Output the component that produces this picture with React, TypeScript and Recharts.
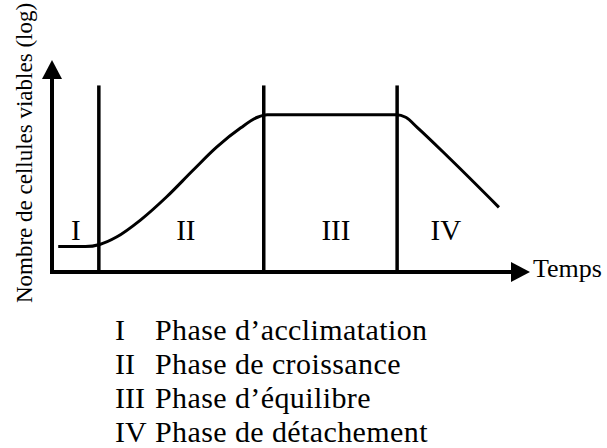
import { ComposedChart, Line, XAxis, YAxis, ReferenceLine, ReferenceDot } from "recharts";

// temps (unités arbitraires) et nombre de cellules viables (log)
const times = [1.3, 7, 10, 13.5, 18.5, 24, 29.5, 34.5, 39.5, 43, 45, 58, 72, 74, 76.5, 83, 93.5];
const logCells = [1.2, 1.2, 1.3, 1.65, 2.45, 3.55, 4.8, 5.9, 6.8, 7.3, 7.42, 7.42, 7.42, 7.3, 6.8, 5.4, 3.05];

// limites entre phases
const phaseBounds = [9.8, 44.3, 72.2];
const boundTop = 8.8;

const phaseNumerals = ["I", "II", "III", "IV"];
const numeralX = [5, 28, 59.4, 82.4];
const numeralY = 1.53;
const phaseNames = [
  "Phase d\u2019acclimatation",
  "Phase de croissance",
  "Phase d\u2019\u00e9quilibre",
  "Phase de d\u00e9tachement",
];

const FONT = "'Liberation Serif', 'Times New Roman', serif";

const data = times.map((t, i) => ({ t, v: logCells[i] }));

const ArrowAxis = (props: any) => {
  const { x1, y1, x2, y2, caption, vertical } = props;
  const dx = x2 - x1;
  const dy = y2 - y1;
  const len = Math.hypot(dx, dy);
  const ux = dx / len;
  const uy = dy / len;
  const head = 19;
  const half = 10;
  const bx = x2 - ux * head;
  const by = y2 - uy * head;
  const px = -uy;
  const py = ux;
  return (
    <g>
      <line x1={x1 - ux * 2} y1={y1 - uy * 2} x2={bx + ux} y2={by + uy} stroke="#000" strokeWidth={4} />
      <polygon
        points={`${x2},${y2} ${bx + px * half},${by + py * half} ${bx - px * half},${by - py * half}`}
        fill="#000"
      />
      {vertical ? (
        <text
          x={x1 - 20}
          y={(y1 + y2) / 2 - 13}
          transform={`rotate(-90 ${x1 - 20} ${(y1 + y2) / 2 - 13})`}
          textAnchor="middle"
          fontFamily={FONT}
          fontSize={23}
          fill="#000"
        >
          {caption}
        </text>
      ) : (
        <text x={x2 + 3} y={y2 + 5} fontFamily={FONT} fontSize={26} fill="#000">
          {caption}
        </text>
      )}
    </g>
  );
};

const Numeral = (props: any) => (
  <text x={props.cx} y={props.cy} textAnchor="middle" fontFamily={FONT} fontSize={29} fill="#000">
    {props.label}
  </text>
);

export default function App() {
  return (
    <div style={{ position: "absolute", left: 0, top: 0, width: 607, height: 448, background: "#fff" }}>
      <ComposedChart
        width={607}
        height={448}
        data={data}
        margin={{ top: 60, right: 77, bottom: 176, left: 52 }}
      >
        <XAxis type="number" dataKey="t" domain={[0, 100]} hide />
        <YAxis type="number" domain={[0, 10]} hide />
        <ReferenceLine
          ifOverflow="visible"
          segment={[{ x: 0, y: 0 }, { x: 100, y: 0 }]}
          shape={(p: any) => <ArrowAxis {...p} caption="Temps" />}
        />
        <ReferenceLine
          ifOverflow="visible"
          segment={[{ x: 0, y: 0 }, { x: 0, y: 10 }]}
          shape={(p: any) => <ArrowAxis {...p} vertical caption="Nombre de cellules viables (log)" />}
        />
        {phaseBounds.map((b) => (
          <ReferenceLine
            key={b}
            ifOverflow="visible"
            segment={[{ x: b, y: 0 }, { x: b, y: boundTop }]}
            stroke="#000"
            strokeWidth={3.5}
          />
        ))}
        {phaseNumerals.map((n, i) => (
          <ReferenceDot
            key={n}
            x={numeralX[i]}
            y={numeralY}
            r={0}
            ifOverflow="visible"
            shape={(p: any) => <Numeral {...p} label={n} />}
          />
        ))}
        <Line
          type="monotone"
          dataKey="v"
          stroke="#000"
          strokeWidth={3}
          dot={false}
          isAnimationActive={false}
        />
      </ComposedChart>
      {phaseNumerals.map((n, i) => (
        <div
          key={n}
          style={{
            position: "absolute",
            top: 313 + i * 34,
            left: 115,
            fontFamily: FONT,
            fontSize: 30,
            lineHeight: "34px",
            whiteSpace: "nowrap",
            color: "#000",
          }}
        >
          <span style={{ display: "inline-block", width: 40 }}>{n}</span>
          <span style={{ letterSpacing: 0.4 }}>{phaseNames[i]}</span>
        </div>
      ))}
    </div>
  );
}
